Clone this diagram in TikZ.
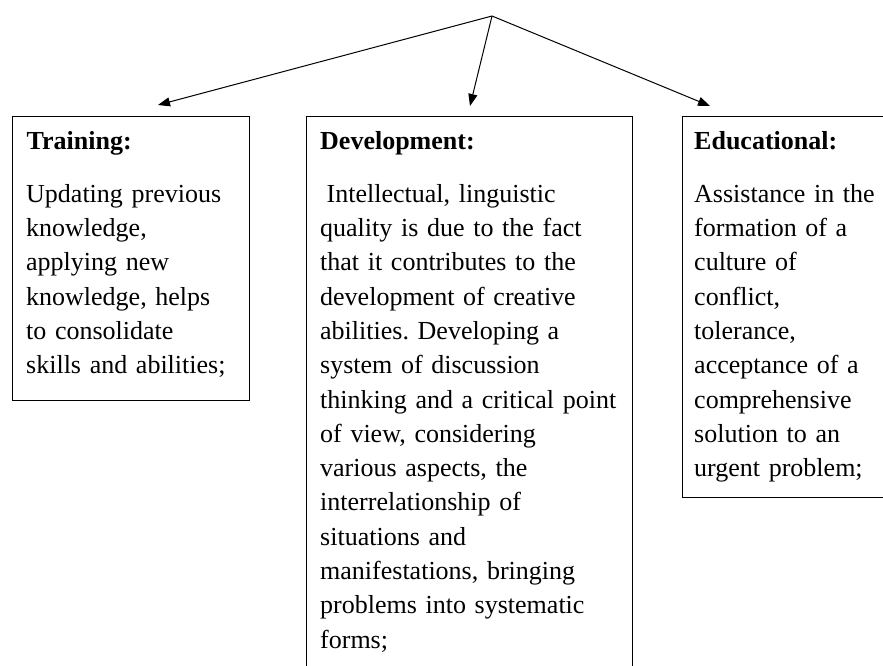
\documentclass[tikz,border=0pt]{standalone}
\usepackage{fontspec}
\setmainfont{Liberation Serif}
\usetikzlibrary{arrows.meta,calc}
\frenchspacing
\newcommand\mybodyfont{\fontsize{26}{34.3}\selectfont\frenchspacing}
\newcommand\firststrut{\rule{0pt}{24pt}}
\tikzset{
  box/.style={draw, line width=1.1pt, anchor=north west, inner sep=0pt},
  ttl/.style={anchor=north west, inner sep=0pt, font=\mybodyfont\bfseries},
  body/.style={anchor=north west, inner sep=0pt, text width=330pt, align=left, font=\mybodyfont},
  conn/.style={line width=1pt, -{Triangle[length=12pt,width=9pt]}},
}
\begin{document}
\begin{tikzpicture}[x=1pt,y=-1pt]
\path[use as bounding box] (0,0) rectangle (883,666);
\clip (0,0) rectangle (883,666);

% boxes
\node[box, minimum width=237pt, minimum height=284pt] (train) at (12,116) {};
\node[box, minimum width=326pt, minimum height=600pt] (devel) at (306,116) {};
\node[box, minimum width=260pt, minimum height=381pt] (educ) at (682,116) {};

% titles
\node[ttl] (trainT) at ($(train.north west)+(14.5,9)$) {\firststrut Training:};
\node[ttl] (develT) at ($(devel.north west)+(14,9)$) {\firststrut Development:};
\node[ttl] (educT) at ($(educ.north west)+(12,9)$) {\firststrut Educational:};

% bodies
\node[body] (trainB) at ($(train.north west)+(14,62)$) {\firststrut Updating previous\\
knowledge,\\
applying new\\
knowledge, helps\\
to consolidate\\
skills and abilities;};

\node[body] (develB) at ($(devel.north west)+(14,62)$) {\firststrut\hspace*{6.5pt}Intellectual, linguistic\\
quality is due to the fact\\
that it contributes to the\\
development of creative\\
abilities. Developing a\\
system of discussion\\
thinking and a critical point\\
of view, considering\\
various aspects, the\\
interrelationship of\\
situations and\\
manifestations, bringing\\
problems into systematic\\
forms;};

\node[body] (educB) at ($(educ.north west)+(12,62)$) {\firststrut Assistance in the\\
formation of a\\
culture of\\
conflict,\\
tolerance,\\
acceptance of a\\
comprehensive\\
solution to an\\
urgent problem;};

% connectors
\coordinate (apex) at (492,16);
\coordinate (tipT) at ($(train.north west)+(146,-11)$);
\coordinate (tipD) at ($(devel.north west)+(164,-10)$);
\coordinate (tipE) at ($(educ.north west)+(28,-10)$);
\draw[conn] (apex) -- (tipT);
\draw[conn] (apex) -- (tipD);
\draw[conn] (apex) -- (tipE);
\end{tikzpicture}
\end{document}
